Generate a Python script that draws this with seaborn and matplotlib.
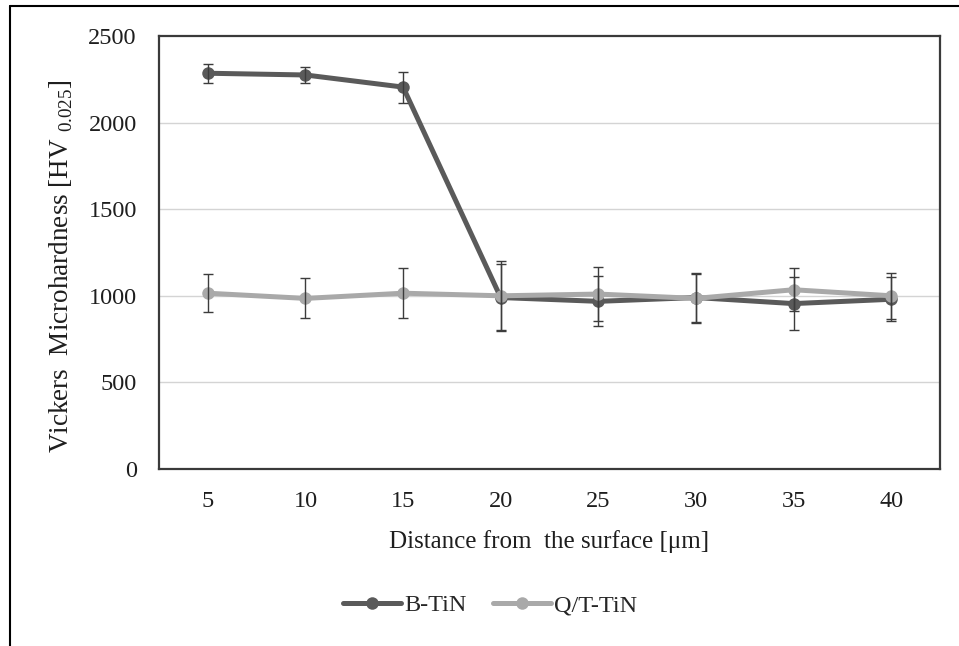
import matplotlib
matplotlib.use("Agg")
import matplotlib.pyplot as plt
from matplotlib.lines import Line2D
import numpy as np
import pandas as pd
import seaborn as sns

# Microhardness profile below the coated surface
distance = [5, 10, 15, 20, 25, 30, 35, 40]
b_tin = [2285, 2275, 2205, 990, 968, 990, 955, 980]
b_tin_err = [55, 45, 90, 195, 145, 140, 155, 128]
qt_tin = [1015, 985, 1015, 1000, 1010, 985, 1035, 1000]
qt_tin_err = [110, 115, 145, 200, 155, 140, 125, 132]
series_names = ["B-TiN", "Q/T-TiN"]
series_colors = ["#5a5a5a", "#a9a9a9"]
y_ticks = [0, 500, 1000, 1500, 2000, 2500]

df = pd.DataFrame({
    "distance": distance * 2,
    "hv": b_tin + qt_tin,
    "series": [series_names[0]] * len(distance) + [series_names[1]] * len(distance),
})

sns.set_theme(style="white")
plt.rcParams["font.family"] = ["Liberation Serif", "DejaVu Serif"]
plt.rcParams["mathtext.fontset"] = "custom"
plt.rcParams["mathtext.rm"] = "Liberation Serif"

FS = 17.5
TXT = "#1e1e1e"

fig = plt.figure(figsize=(9.59, 6.46), dpi=100)
ax = fig.add_axes([159 / 959, 1 - 469 / 646, (940 - 159) / 959, (469 - 36) / 646])

sns.lineplot(data=df, x="distance", y="hv", hue="series", palette=series_colors,
             hue_order=series_names, marker="o", markersize=9, markeredgewidth=0,
             linewidth=3.6, ax=ax, legend=False, errorbar=None, sort=False)

for vals, errs in [(b_tin, b_tin_err), (qt_tin, qt_tin_err)]:
    ax.errorbar(distance, vals, yerr=errs, fmt="none", ecolor="#3c3c3c",
                elinewidth=1.0, capsize=3.4, capthick=1.0, zorder=5)

ax.set_xlim(2.5, 42.5)
ax.set_ylim(0, 2500)
ax.set_xticks(distance)
ax.set_xticklabels([str(d) for d in distance])
ax.set_yticks(y_ticks)
ax.tick_params(axis="both", length=0, labelsize=FS, colors=TXT)
ax.tick_params(axis="x", pad=16)
ax.tick_params(axis="y", pad=16)
for v in y_ticks[1:-1]:
    ax.axhline(v, color="#d4d4d4", linewidth=1.0, zorder=0)
for s in ax.spines.values():
    s.set_color("#3a3a3a")
    s.set_linewidth(1.6)

ax.set_xlabel("Distance from  the surface [μm]", fontsize=18, color=TXT, labelpad=13)
ax.set_ylabel(r"Vickers  Microhardness [HV $_{\mathregular{0.025}}$]", fontsize=19.5,
              color=TXT)
ax.yaxis.set_label_coords(-0.107, 0.468)

handles = [Line2D([], [], color=c, linewidth=3.6, marker="o", markersize=9,
                  markeredgewidth=0) for c in series_colors]
fig.legend(handles, series_names, loc="center", bbox_to_anchor=(490 / 959, 1 - 605 / 646),
           ncol=2, frameon=False, fontsize=FS, handlelength=2.4, columnspacing=1.1,
           handletextpad=0.1)

# outer frame edges
fig.add_artist(Line2D([10 / 959, 10 / 959], [0, 1 - 6 / 646], transform=fig.transFigure,
                      color="black", linewidth=1.5))
fig.add_artist(Line2D([10 / 959, 1], [1 - 6 / 646, 1 - 6 / 646], transform=fig.transFigure,
                      color="black", linewidth=1.5))

fig.savefig("out.png", dpi=100)
